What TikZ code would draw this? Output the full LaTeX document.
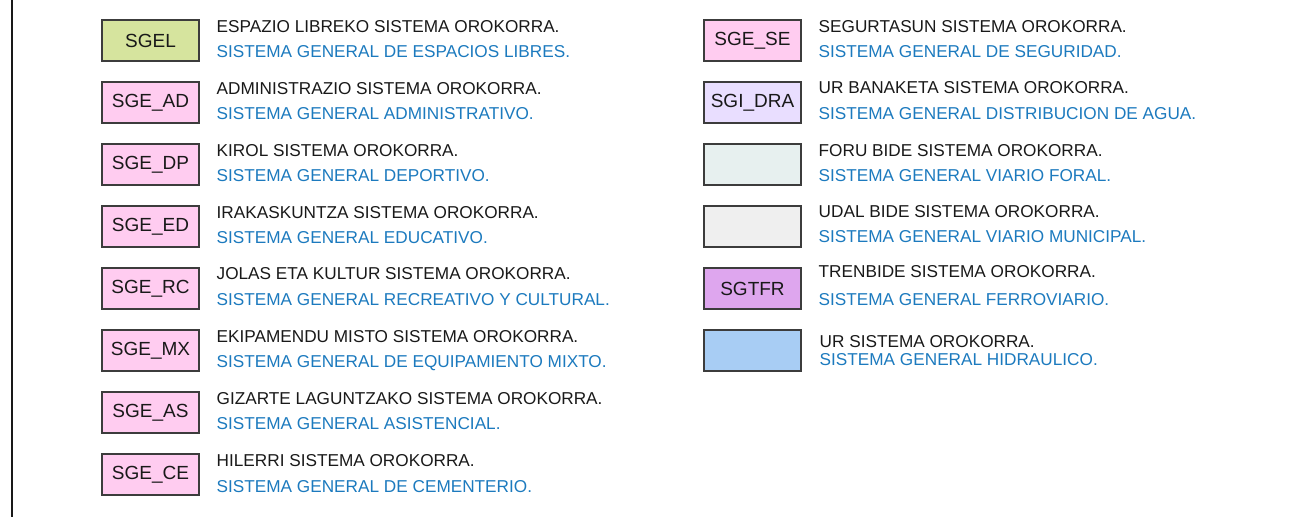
\documentclass[tikz,border=0pt]{standalone}
\usepackage{fontspec}
\setmainfont{Liberation Sans}
\definecolor{cgreen}{RGB}{214,228,158}
\definecolor{cpink}{RGB}{255,204,240}
\definecolor{clav}{RGB}{233,222,255}
\definecolor{cforu}{RGB}{231,240,239}
\definecolor{cudal}{RGB}{239,239,239}
\definecolor{ctren}{RGB}{222,166,238}
\definecolor{cur}{RGB}{168,205,244}
\definecolor{cblue}{RGB}{28,122,190}
\definecolor{cblack}{RGB}{25,25,25}
\definecolor{cedge}{RGB}{60,60,60}
\tikzset{
  x=1pt, y=-1pt,
  legbox/.style={draw=cedge, line width=1.4pt, minimum width=97pt, minimum height=41pt,
    inner sep=0pt, font=\fontsize{19}{19}\selectfont, text=cblack},
  eus/.style={anchor=base west, inner sep=0pt, font=\fontsize{17.2}{17.2}\selectfont, text=cblack},
  esp/.style={anchor=base west, inner sep=0pt, font=\fontsize{17.2}{17.2}\selectfont, text=cblue}
}
\begin{document}
\begin{tikzpicture}
\useasboundingbox (0,0) rectangle (1304,517);
\draw[line width=1.8pt, cblack] (11.7,0) -- (11.7,517);
% left column
\node[legbox, fill=cgreen] (b1) at (150.5,40.5) {SGEL};
\node[eus] (e1) at (216.5,32) {ESPAZIO LIBREKO SISTEMA OROKORRA.};
\node[esp] (s1) at (216.5,57) {SISTEMA GENERAL DE ESPACIOS LIBRES.};
\node[legbox, fill=cpink] (b2) at (150.5,102.5) {SGE\_AD};
\node[eus] (e2) at (216.5,94) {ADMINISTRAZIO SISTEMA OROKORRA.};
\node[esp] (s2) at (216.5,119) {SISTEMA GENERAL ADMINISTRATIVO.};
\node[legbox, fill=cpink] (b3) at (150.5,164.5) {SGE\_DP};
\node[eus] (e3) at (216.5,156) {KIROL SISTEMA OROKORRA.};
\node[esp] (s3) at (216.5,181) {SISTEMA GENERAL DEPORTIVO.};
\node[legbox, fill=cpink] (b4) at (150.5,226.5) {SGE\_ED};
\node[eus] (e4) at (216.5,218) {IRAKASKUNTZA SISTEMA OROKORRA.};
\node[esp] (s4) at (216.5,243) {SISTEMA GENERAL EDUCATIVO.};
\node[legbox, fill=cpink] (b5) at (150.5,288.5) {SGE\_RC};
\node[eus] (e5) at (216.5,279) {JOLAS ETA KULTUR SISTEMA OROKORRA.};
\node[esp] (s5) at (216.5,305) {SISTEMA GENERAL RECREATIVO Y CULTURAL.};
\node[legbox, fill=cpink] (b6) at (150.5,350.5) {SGE\_MX};
\node[eus] (e6) at (216.5,342) {EKIPAMENDU MISTO SISTEMA OROKORRA.};
\node[esp] (s6) at (216.5,367) {SISTEMA GENERAL DE EQUIPAMIENTO MIXTO.};
\node[legbox, fill=cpink] (b7) at (150.5,412.5) {SGE\_AS};
\node[eus] (e7) at (216.5,404.5) {GIZARTE LAGUNTZAKO SISTEMA OROKORRA.};
\node[esp] (s7) at (216.5,429.5) {SISTEMA GENERAL ASISTENCIAL.};
\node[legbox, fill=cpink] (b8) at (150.5,474.5) {SGE\_CE};
\node[eus] (e8) at (216.5,466) {HILERRI SISTEMA OROKORRA.};
\node[esp] (s8) at (216.5,492) {SISTEMA GENERAL DE CEMENTERIO.};
% right column
\node[legbox, fill=cpink] (r1) at (752.5,40.5) {SGE\_SE};
\node[eus] (re1) at (818.5,32) {SEGURTASUN SISTEMA OROKORRA.};
\node[esp] (rs1) at (818.5,57) {SISTEMA GENERAL DE SEGURIDAD.};
\node[legbox, fill=clav] (r2) at (752.5,102.5) {SGI\_DRA};
\node[eus] (re2) at (818.5,93) {UR BANAKETA SISTEMA OROKORRA.};
\node[esp] (rs2) at (818.5,119) {SISTEMA GENERAL DISTRIBUCION DE AGUA.};
\node[legbox, fill=cforu] (r3) at (752.5,164.5) {};
\node[eus] (re3) at (818.5,156) {FORU BIDE SISTEMA OROKORRA.};
\node[esp] (rs3) at (818.5,181.5) {SISTEMA GENERAL VIARIO FORAL.};
\node[legbox, fill=cudal] (r4) at (752.5,226.5) {};
\node[eus] (re4) at (818.5,217) {UDAL BIDE SISTEMA OROKORRA.};
\node[esp] (rs4) at (818.5,242.5) {SISTEMA GENERAL VIARIO MUNICIPAL.};
\node[legbox, fill=ctren] (r5) at (752.5,288.5) {SGTFR};
\node[eus] (re5) at (818.5,277) {TRENBIDE SISTEMA OROKORRA.};
\node[esp] (rs5) at (818.5,305) {SISTEMA GENERAL FERROVIARIO.};
\node[legbox, fill=cur] (r6) at (752.5,350.5) {};
\node[eus] (re6) at (819.5,347) {UR SISTEMA OROKORRA.};
\node[esp] (rs6) at (819.5,365) {SISTEMA GENERAL HIDRAULICO.};
\end{tikzpicture}
\end{document}
